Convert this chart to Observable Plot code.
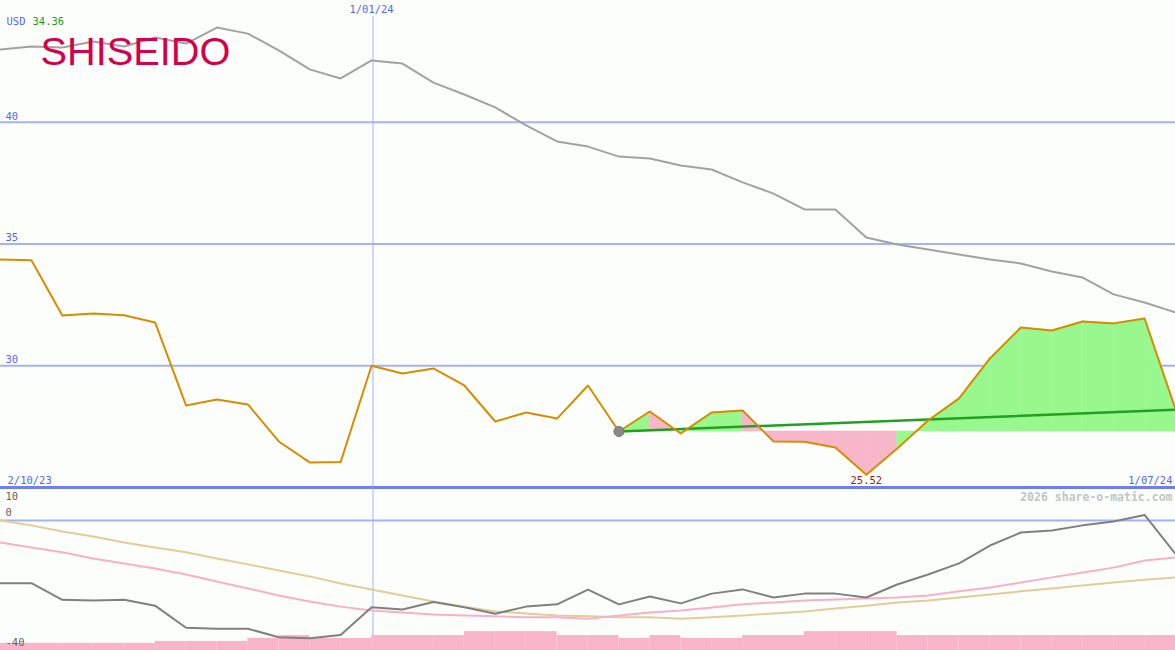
<!DOCTYPE html>
<html><head><meta charset="utf-8">
<script src="https://cdn.jsdelivr.net/npm/d3@7"></script>
<script src="https://cdn.jsdelivr.net/npm/@observablehq/plot@0.6"></script>
<style>
html,body{margin:0;padding:0;background:#fcfefc;}
#chart{position:relative;width:1175px;height:650px;overflow:hidden;background:#fcfefc;}
#top{position:absolute;left:0;top:0;}
#bottom{position:absolute;left:0;top:487px;}
</style></head><body><div id="chart"><div id="top"></div><div id="bottom"></div></div>
<script>
// ---- data (weekly) ----
const price = [34.36, 34.33, 32.06, 32.15, 32.07, 31.78, 28.37, 28.61, 28.41, 26.89, 26.03, 26.05, 30.00, 29.68, 29.89, 29.19, 27.71, 28.08, 27.83, 29.19, 27.30, 28.12, 27.22, 28.08, 28.16, 26.89, 26.88, 26.64, 25.52, 26.60, 27.75, 28.66, 30.30, 31.57, 31.45, 31.82, 31.74, 31.94, 28.22];
const movingAvg = [42.99, 43.11, 43.07, 43.32, 43.11, 43.48, 43.23, 43.89, 43.64, 42.95, 42.17, 41.80, 42.54, 42.41, 41.63, 41.14, 40.61, 39.87, 39.21, 39.00, 38.59, 38.51, 38.22, 38.06, 37.53, 37.07, 36.42, 36.42, 35.27, 34.98, 34.77, 34.57, 34.36, 34.20, 33.87, 33.62, 32.93, 32.60, 32.19];
const oscillator = [-19.3, -19.3, -24.4, -24.6, -24.4, -26.2, -33.0, -33.3, -33.3, -35.9, -36.2, -35.2, -26.7, -27.4, -25.1, -26.7, -28.7, -26.5, -25.8, -21.3, -25.8, -23.4, -25.5, -22.5, -21.2, -23.7, -22.5, -22.5, -23.7, -19.7, -16.6, -13.2, -7.7, -3.7, -3.1, -1.5, -0.3, 1.7, -10.3];
const oscFast = [-6.8, -8.3, -9.8, -11.7, -13.2, -14.8, -16.6, -18.8, -20.9, -23.1, -24.9, -26.5, -27.7, -28.3, -28.9, -29.2, -29.5, -29.8, -29.8, -30.2, -29.2, -28.3, -27.7, -26.8, -25.8, -25.2, -24.6, -24.3, -24.0, -23.7, -23.1, -21.8, -20.6, -19.1, -17.5, -16.0, -14.5, -12.3, -11.4];
const oscSlow = [0, -1.5, -3.4, -4.9, -6.8, -8.3, -9.8, -11.7, -13.5, -15.4, -17.2, -19.4, -21.2, -23.1, -24.9, -26.5, -28.0, -28.6, -29.2, -29.5, -29.8, -29.8, -30.2, -29.8, -29.2, -28.6, -28.0, -27.1, -26.2, -25.2, -24.6, -23.7, -22.8, -21.8, -20.9, -20.0, -19.1, -18.2, -17.5];
const volumeBars = [-37.8, -37.8, -37.8, -37.8, -37.8, -37.2, -37.2, -37.2, -36.3, -35.4, -36.3, -36.3, -35.4, -35.4, -35.4, -34.2, -34.2, -34.2, -35.4, -35.4, -36.3, -35.4, -36.3, -36.3, -35.4, -35.4, -34.2, -34.2, -34.2, -35.4, -35.4, -35.4, -35.4, -35.4, -35.4, -35.4, -35.4, -35.4];
const trendStart = 20;
const trendEnd = 28.19;
const weekSignal = ["up","down","up","up","down","down","down","down","down","up","up","up","up","up","up","up","up","up"];
const priceTicks = [30, 35, 40];
const oscTopTick = [10];
const oscTicks = [0, -40];
const dateLabels = [{i: 0, label: "2/10/23"}, {i: 12, label: "1/01/24"}, {i: 38, label: "1/07/24"}];
const currency = "USD";
const company = "SHISEIDO";
const credit = "2026 share-o-matic.com";

// ---- derived tables ----
const n = price.length;
const rows = price.map((v, i) => ({i, price: v, avg: movingAvg[i], osc: oscillator[i], fast: oscFast[i], slow: oscSlow[i]}));
const base = price[trendStart];
const segs = [];
weekSignal.forEach((s, k) => {
  const a = trendStart + k;
  segs.push({seg: k, i: a, v: price[a], sig: s}, {seg: k, i: a + 1, v: price[a + 1], sig: s});
});
const trend = [{i: trendStart, v: base}, {i: n - 1, v: trendEnd}];
const minI = d3.minIndex(price);
const bars = volumeBars.map((v, i) => ({i, i2: i + 1, lo: -40, v}));
const mono = "DejaVu Sans Mono";
const blue = "#5566ee";
const grid = "#a6b3f3";
const vline = "#a2b0fa";
const fs = 10.5;

const topPlot = Plot.plot({
  width: 1175, height: 487, margin: 0,
  x: {domain: [0, n - 1], axis: null},
  y: {domain: [25, 45], axis: null},
  color: {domain: ["up", "down"], range: ["#98f88e", "#f8b6ca"]},
  style: {background: "transparent", overflow: "visible"},
  marks: [
    Plot.ruleY(priceTicks, {stroke: grid, strokeWidth: 2}),
    Plot.ruleX([dateLabels[1].i], {stroke: vline, strokeWidth: 1, dx: 1.45, insetTop: 16}),
    Plot.text(priceTicks, {y: d => d, frameAnchor: "left", lineAnchor: "middle", dx: 5, dy: -6, textAnchor: "start", fill: blue, fontFamily: mono, fontSize: fs}),
    Plot.line(rows, {x: "i", y: "avg", stroke: "#a2a2a2", strokeWidth: 2}),
    Plot.areaY(segs, {x: "i", y1: () => base, y2: "v", z: "seg", fill: "sig", stroke: "sig", strokeWidth: 0.6}),
    Plot.line(trend, {x: "i", y: "v", stroke: "#22a022", strokeWidth: 2.5}),
    Plot.line(rows, {x: "i", y: "price", stroke: "#d88c00", strokeWidth: 2}),
    Plot.dot([rows[trendStart]], {x: "i", y: "price", r: 5, fill: "#8a8a8a", stroke: "#707070", strokeWidth: 1}),
    Plot.text([rows[minI]], {x: "i", y: "price", text: d => d.price.toFixed(2), lineAnchor: "middle", dy: 6, fill: "#a01818", fontFamily: mono, fontSize: fs}),
    Plot.text([dateLabels[1]], {x: "i", text: "label", frameAnchor: "top", lineAnchor: "middle", dy: 9, fill: blue, fontFamily: mono, fontSize: fs}),
    Plot.text([dateLabels[0]], {x: "i", text: "label", frameAnchor: "bottom", lineAnchor: "middle", dx: 7, dy: -7, textAnchor: "start", fill: blue, fontFamily: mono, fontSize: fs}),
    Plot.text([dateLabels[2]], {x: "i", text: "label", frameAnchor: "bottom", lineAnchor: "middle", dx: -3, dy: -7, textAnchor: "end", fill: blue, fontFamily: mono, fontSize: fs}),
    Plot.ruleY([25], {stroke: "#6f80ee", strokeWidth: 3}),
    Plot.text([currency], {frameAnchor: "top-left", lineAnchor: "middle", dx: 6, dy: 21, textAnchor: "start", fill: blue, fontFamily: mono, fontSize: fs}),
    Plot.text([price[0].toFixed(2)], {frameAnchor: "top-left", lineAnchor: "middle", dx: 32, dy: 21, textAnchor: "start", fill: "#1f9a1f", fontFamily: mono, fontSize: fs}),
    Plot.text([company], {frameAnchor: "top-left", lineAnchor: "middle", dx: 40, dy: 52, textAnchor: "start", fill: "#d5004b", fontFamily: "Liberation Sans", fontSize: 38})
  ]
});
d3.select(topPlot).selectAll("text").filter(function() { return this.textContent === company; })
  .attr("textLength", 190).attr("lengthAdjust", "spacingAndGlyphs");
document.getElementById("top").appendChild(topPlot);

const bottomPlot = Plot.plot({
  width: 1175, height: 163, margin: 0,
  x: {domain: [0, n - 1], axis: null},
  y: {domain: [-40, 10.15], axis: null},
  style: {background: "transparent", overflow: "visible"},
  marks: [
    Plot.ruleX([dateLabels[1].i], {stroke: vline, strokeWidth: 1, dx: 1.45}),
    Plot.rect(bars, {x1: "i", x2: "i2", y1: "lo", y2: "v", fill: "#f8b4c8"}),
    Plot.ruleY([0], {stroke: grid, strokeWidth: 2}),
    Plot.line(rows, {x: "i", y: "slow", stroke: "#e2cc98", strokeWidth: 2}),
    Plot.line(rows, {x: "i", y: "fast", stroke: "#f8b0c8", strokeWidth: 2}),
    Plot.line(rows, {x: "i", y: "osc", stroke: "#808080", strokeWidth: 2}),
    Plot.text(oscTopTick, {y: d => d, frameAnchor: "left", lineAnchor: "middle", dx: 5, dy: 9, textAnchor: "start", fill: "#606060", fontFamily: mono, fontSize: fs}),
    Plot.text(oscTicks, {y: d => d, frameAnchor: "left", lineAnchor: "middle", dx: 5, dy: -8, textAnchor: "start", fill: "#606060", fontFamily: mono, fontSize: fs}),
    Plot.text([credit], {frameAnchor: "top-right", lineAnchor: "middle", dx: -3, dy: 10, textAnchor: "end", fill: "#c4c4c4", fontWeight: "bold", fontFamily: mono, fontSize: 11.5})
  ]
});
document.getElementById("bottom").appendChild(bottomPlot);
</script></body></html>
